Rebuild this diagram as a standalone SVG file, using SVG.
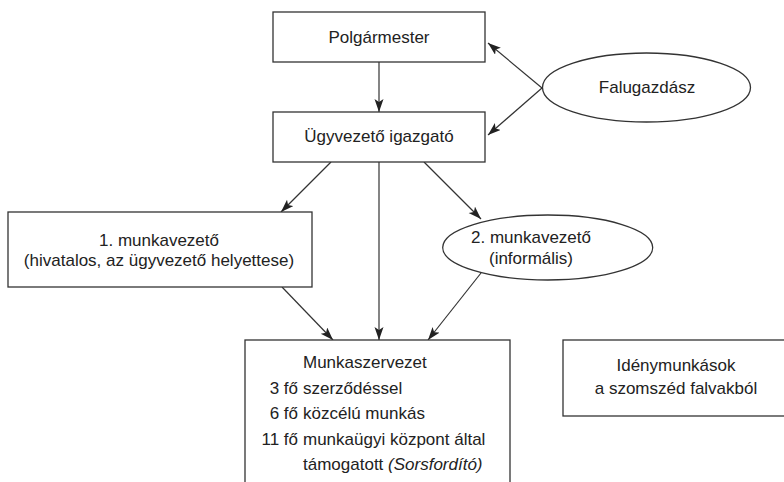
<svg xmlns="http://www.w3.org/2000/svg" width="784" height="482" viewBox="0 0 784 482">
<style>
.box{fill:#fff;stroke:#333;stroke-width:1.3}
.t{font-family:"Liberation Sans",Arial,sans-serif;font-size:17px;fill:#222}
.c{text-anchor:middle}
.e{text-anchor:end}
.con{stroke:#333;stroke-width:1.2;fill:none;marker-end:url(#ah)}
</style>
<defs>
<marker id="ah" markerUnits="userSpaceOnUse" markerWidth="14" markerHeight="10" refX="13" refY="4.5" orient="auto">
<path d="M0,0 L13,4.5 L0,9 L3,4.5 z" fill="#222"/>
</marker>
</defs>
<rect width="784" height="482" fill="#fff"/>
<g id="connectors">
<line class="con" x1="379" y1="62" x2="379" y2="112"/>
<line class="con" x1="542" y1="88" x2="488" y2="43"/>
<line class="con" x1="542" y1="88" x2="488" y2="135"/>
<line class="con" x1="331" y1="162" x2="281" y2="212"/>
<line class="con" x1="379" y1="162" x2="379" y2="340"/>
<line class="con" x1="424" y1="162" x2="481" y2="219"/>
<line class="con" x1="282" y1="287" x2="333" y2="340"/>
<line class="con" x1="481" y1="273" x2="428" y2="340"/>
</g>
<g id="polgarmester">
<rect class="box" x="273" y="12" width="212" height="50"/>
<text class="t c" x="379" y="43">Polgármester</text>
</g>
<g id="ugyvezeto">
<rect class="box" x="273" y="112" width="212" height="50"/>
<text class="t c" x="379" y="142">Ügyvezető igazgató</text>
</g>
<g id="falugazdasz">
<ellipse class="box" cx="646.5" cy="87.5" rx="104" ry="34.5"/>
<text class="t c" x="647" y="93">Falugazdász</text>
</g>
<g id="munkavezeto1">
<rect class="box" x="8" y="212" width="304" height="75"/>
<text class="t c" x="159" y="246">1. munkavezető</text>
<text class="t c" x="159" y="266">(hivatalos, az ügyvezető helyettese)</text>
</g>
<g id="munkavezeto2">
<ellipse class="box" cx="547.7" cy="247.5" rx="105" ry="32.5"/>
<text class="t c" x="531" y="243">2. munkavezető</text>
<text class="t c" x="531" y="264">(informális)</text>
</g>
<g id="munkaszervezet">
<rect class="box" x="245" y="340" width="265" height="160"/>
<text class="t" x="303" y="368">Munkaszervezet</text>
<text class="t e" x="298" y="394">3 fő</text>
<text class="t" x="303" y="394">szerződéssel</text>
<text class="t e" x="298" y="419">6 fő</text>
<text class="t" x="303" y="419">közcélú munkás</text>
<text class="t e" x="298" y="445">11 fő</text>
<text class="t" x="303" y="445">munkaügyi központ által</text>
<text class="t" x="303" y="470">támogatott <tspan font-style="italic">(Sorsfordító)</tspan></text>
</g>
<g id="idenymunkasok">
<rect class="box" x="563" y="340" width="226" height="76"/>
<text class="t c" x="676" y="371">Idénymunkások</text>
<text class="t c" x="676" y="394">a szomszéd falvakból</text>
</g>
</svg>
